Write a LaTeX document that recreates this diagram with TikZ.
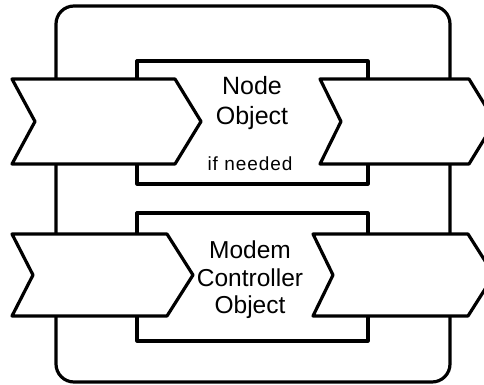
\documentclass[tikz,border=0pt]{standalone}
\usepackage{fontspec}
\setmainfont{Liberation Sans}
\usetikzlibrary{positioning}

\begin{document}
\begin{tikzpicture}[x=1pt,y=-1pt,line width=3.2pt,line join=round,
  frame/.style={draw,rectangle,inner sep=0pt},
  chevron/.style={draw,fill=white},
  txt/.style={align=center,inner sep=0pt}]

\useasboundingbox (0,0) rectangle (484,385);

\node[frame, rounded corners=18pt, minimum width=394pt, minimum height=376pt] (outer) at (253,194) {};

\node[frame, fill=white, minimum width=231pt, minimum height=123pt] (nodebox)  at (252.5,122.5) {};
\node[frame, fill=white, minimum width=231pt, minimum height=128pt] (modembox) at (252.5,277) {};

% chevrons: left edge / top / bottom / length of top edge / notch depth
\foreach \l/\t/\b/\w/\n in {12/79/164/163/23, 320/79/164/149/21, 12/234/316/155/21, 313/234/316/155/20}
  \draw[chevron] (\l,\t) -- ++(\w,0) -- ({\l+\w+26},{(\t+\b)/2}) -- (\l+\w,\b)
    -- (\l,\b) -- ({\l+\n},{(\t+\b)/2}) -- cycle;

\node[txt, font=\fontsize{25}{30}\selectfont] (nodename) at (252,103) {Node\\Object};
\node[txt, font=\fontsize{19}{20}\selectfont\addfontfeature{LetterSpace=5}] (ifneeded) at (250,164) {if needed};
\node[txt, font=\fontsize{24.5}{27.5}\selectfont] (modemname) at (250,280) {Modem\\Controller\\Object};

\end{tikzpicture}
\end{document}
